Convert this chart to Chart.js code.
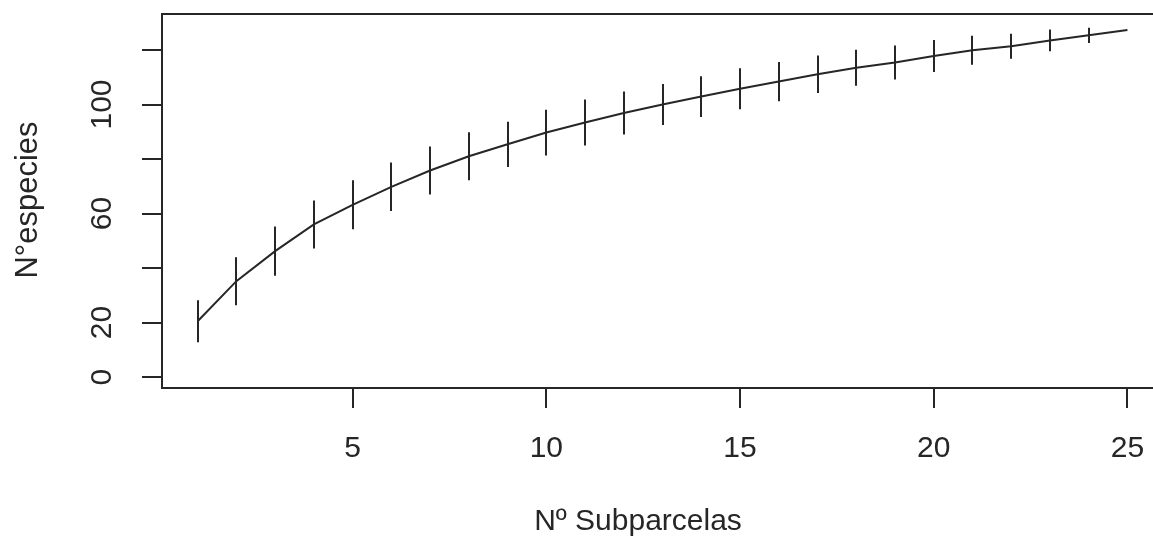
<!DOCTYPE html>
<html>
<head>
<meta charset="utf-8">
<script src="https://cdn.jsdelivr.net/npm/chart.js@4/dist/chart.umd.min.js"></script>
<style>
  html, body { margin: 0; padding: 0; background: #fff; }
  canvas { display: block; }
</style>
</head>
<body>
<canvas id="curve" width="1153" height="537"></canvas>
<script>
// Species accumulation curve (mean +/- sd per number of subplots)
const subplots = [1, 2, 3, 4, 5, 6, 7, 8, 9, 10, 11, 12, 13, 14, 15, 16, 17, 18, 19, 20, 21, 22, 23, 24, 25];
const meanSpecies = [20.5, 35.2, 46.2, 56.0, 63.2, 69.8, 75.8, 81.0, 85.4, 89.7, 93.4, 96.9, 100.0, 102.9, 105.8, 108.4, 111.1, 113.5, 115.4, 117.8, 119.9, 121.4, 123.5, 125.4, 127.3];
const sdSpecies = [7.7, 8.8, 9.0, 8.8, 9.0, 8.9, 8.8, 8.8, 8.3, 8.4, 8.4, 7.9, 7.5, 7.5, 7.5, 7.2, 6.9, 6.6, 6.2, 5.9, 5.3, 4.6, 4.0, 2.8, 0];

const xTicks = [5, 10, 15, 20, 25];
const yTicks = [0, 20, 40, 60, 80, 100, 120];
const yLabelled = [0, 20, 60, 100]; // R drops the overlapping ones

const ink = "#262626";
const font = "'Liberation Sans', Arial, sans-serif";

// error bars, box top, rotated labels and titles
const rStyle = {
  id: "rStyle",
  afterDatasetsDraw(chart) {
    const { ctx, scales: { x, y }, chartArea } = chart;
    ctx.save();
    ctx.strokeStyle = ink;
    ctx.lineWidth = 2;
    ctx.beginPath();
    subplots.forEach((s, i) => {
      if (!sdSpecies[i]) return;
      const px = Math.round(x.getPixelForValue(s));
      ctx.moveTo(px, y.getPixelForValue(meanSpecies[i] + sdSpecies[i]));
      ctx.lineTo(px, y.getPixelForValue(meanSpecies[i] - sdSpecies[i]));
    });
    ctx.stroke();

    // top of the box
    ctx.beginPath();
    ctx.moveTo(chartArea.left - 1, chartArea.top);
    ctx.lineTo(chart.width, chartArea.top);
    ctx.stroke();
    ctx.restore();
  },
  afterDraw(chart) {
    const { ctx, scales: { x, y } } = chart;
    ctx.save();
    ctx.fillStyle = ink;
    ctx.font = "30px " + font;
    ctx.textAlign = "center";
    ctx.textBaseline = "alphabetic";

    xTicks.forEach(v => ctx.fillText(String(v), x.getPixelForValue(v), 457));

    yLabelled.forEach(v => {
      ctx.save();
      ctx.translate(111, y.getPixelForValue(v));
      ctx.rotate(-Math.PI / 2);
      ctx.fillText(String(v), 0, 0);
      ctx.restore();
    });

    ctx.font = "30px " + font;
    ctx.fillText("Nº Subparcelas", 638, 530);

    ctx.save();
    ctx.font = "31px " + font;
    ctx.translate(37, 200);
    ctx.rotate(-Math.PI / 2);
    ctx.fillText("N°especies", 0, 0);
    ctx.restore();
    ctx.restore();
  }
};

new Chart(document.getElementById("curve"), {
  type: "scatter",
  data: {
    datasets: [{
      data: subplots.map((s, i) => ({ x: s, y: meanSpecies[i] })),
      showLine: true,
      borderColor: ink,
      borderWidth: 2,
      pointRadius: 0,
      tension: 0
    }]
  },
  options: {
    responsive: false,
    animation: false,
    layout: { padding: { top: 14, left: 0, right: 0, bottom: 0 } },
    plugins: { legend: { display: false }, tooltip: { enabled: false } },
    scales: {
      x: {
        type: "linear",
        min: 0.08,
        max: 25.66,
        afterBuildTicks: s => { s.ticks = xTicks.map(v => ({ value: v })); },
        afterFit: s => { s.height = 149; },
        ticks: { display: false },
        grid: { drawOnChartArea: false, drawTicks: true, tickLength: 20, color: ink, lineWidth: 2 },
        border: { display: true, color: ink, width: 2 }
      },
      y: {
        type: "linear",
        min: -4.0,
        max: 133.2,
        afterBuildTicks: s => { s.ticks = yTicks.map(v => ({ value: v })); },
        afterFit: s => { s.width = 162; },
        ticks: { display: false },
        grid: { drawOnChartArea: false, drawTicks: true, tickLength: 20, color: ink, lineWidth: 2 },
        border: { display: true, color: ink, width: 2 }
      }
    }
  },
  plugins: [rStyle]
});
</script>
</body>
</html>
